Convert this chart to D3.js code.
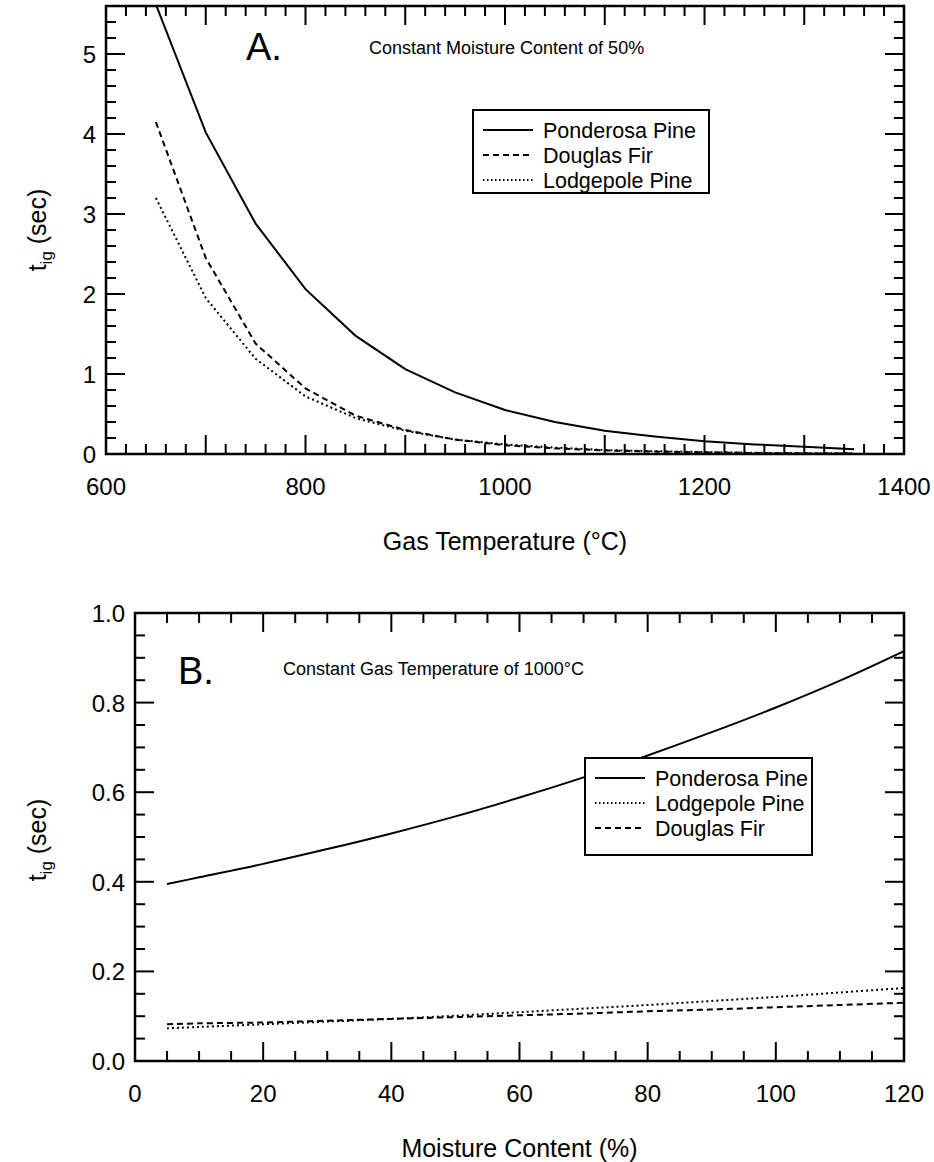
<!DOCTYPE html>
<html>
<head>
<meta charset="utf-8">
<script src="https://cdn.jsdelivr.net/npm/d3@7"></script>
<style>
  body { margin: 0; background: #fff; }
  svg text { font-family: "Liberation Sans", Arial, Helvetica, sans-serif; fill: #000; }
</style>
</head>
<body>
<div id="chart"></div>
<script>
// ---- panel A data: ignition time vs gas temperature (moisture 50%)
var gasTemp = [650, 700, 750, 800, 850, 900, 950, 1000, 1050, 1100, 1150, 1200, 1250, 1300, 1350];
var ponderosaA = [5.62, 4.02, 2.88, 2.06, 1.48, 1.06, 0.77, 0.55, 0.40, 0.29, 0.22, 0.16, 0.12, 0.09, 0.06];
var douglasA   = [4.15, 2.45, 1.38, 0.82, 0.48, 0.30, 0.18, 0.11, 0.07, 0.045, 0.03, 0.02, 0.012, 0.008, 0.005];
var lodgepoleA = [3.20, 1.95, 1.19, 0.72, 0.45, 0.29, 0.18, 0.12, 0.08, 0.05, 0.035, 0.025, 0.015, 0.01, 0.008];

// ---- panel B data: ignition time vs moisture content (gas 1000°C)
var moisture   = [5, 10, 20, 30, 40, 50, 60, 70, 80, 90, 100, 110, 120];
var ponderosaB = [0.395, 0.41, 0.44, 0.473, 0.508, 0.546, 0.588, 0.633, 0.682, 0.734, 0.789, 0.849, 0.915];
var lodgepoleB = [0.073, 0.076, 0.082, 0.088, 0.094, 0.101, 0.109, 0.117, 0.125, 0.134, 0.143, 0.153, 0.163];
var douglasB   = [0.082, 0.084, 0.086, 0.090, 0.094, 0.098, 0.102, 0.106, 0.111, 0.115, 0.120, 0.125, 0.130];

var width = 934, height = 1162;

var svg = d3.select("#chart").append("svg")
    .attr("width", width)
    .attr("height", height);

var styles = {
  "Ponderosa Pine": null,
  "Douglas Fir": "6,4",
  "Lodgepole Pine": "2,3"
};

function panel(p) {
  var x = d3.scaleLinear().domain(p.xDomain).range([p.left, p.right]);
  var y = d3.scaleLinear().domain(p.yDomain).range([p.bottom, p.top]);
  var g = svg.append("g");

  // clip for curves
  g.append("clipPath").attr("id", p.id + "-clip")
    .append("rect")
    .attr("x", p.left).attr("y", p.top)
    .attr("width", p.right - p.left).attr("height", p.bottom - p.top);

  // ticks, inward on all four sides
  var xt = d3.range(p.xDomain[0], p.xDomain[1] + 1e-9, p.xMinor);
  var yt = d3.range(p.yDomain[0], p.yDomain[1] + 1e-9, p.yMinor);
  function isMajor(v, step) { return Math.abs(v / step - Math.round(v / step)) < 1e-6; }
  var tk = g.append("g").attr("stroke", "#000").attr("stroke-width", 2);
  xt.forEach(function(v) {
    var len = isMajor(v, p.xMajor) ? 19 : 10;
    tk.append("line").attr("x1", x(v)).attr("x2", x(v)).attr("y1", p.bottom).attr("y2", p.bottom - len);
    tk.append("line").attr("x1", x(v)).attr("x2", x(v)).attr("y1", p.top).attr("y2", p.top + len);
  });
  yt.forEach(function(v) {
    var len = isMajor(v, p.yMajor) ? 19 : 10;
    tk.append("line").attr("y1", y(v)).attr("y2", y(v)).attr("x1", p.left).attr("x2", p.left + len);
    tk.append("line").attr("y1", y(v)).attr("y2", y(v)).attr("x1", p.right).attr("x2", p.right - len);
  });

  // frame
  g.append("rect")
    .attr("x", p.left).attr("y", p.top)
    .attr("width", p.right - p.left).attr("height", p.bottom - p.top)
    .attr("fill", "none").attr("stroke", "#000").attr("stroke-width", 2.5);

  // tick labels
  g.selectAll(".xl").data(p.xLabels).enter().append("text")
    .attr("x", function(d) { return x(d); })
    .attr("y", p.bottom + 41)
    .attr("text-anchor", "middle")
    .attr("font-size", 24)
    .text(function(d) { return d; });
  g.selectAll(".yl").data(p.yLabels).enter().append("text")
    .attr("x", p.left - 10)
    .attr("y", function(d) { return y(d) + 9; })
    .attr("text-anchor", "end")
    .attr("font-size", 24)
    .text(p.yFormat);

  // axis titles
  g.append("text")
    .attr("x", (p.left + p.right) / 2)
    .attr("y", p.bottom + 96)
    .attr("text-anchor", "middle")
    .attr("font-size", 25)
    .text(p.xTitle);
  var yt2 = g.append("text")
    .attr("transform", "translate(46," + p.yTitleY + ") rotate(-90)")
    .attr("text-anchor", "middle")
    .attr("font-size", 25);
  yt2.append("tspan").text("t");
  yt2.append("tspan").attr("font-size", 17).attr("dy", 6).text("ig");
  yt2.append("tspan").attr("dy", -6).text(" (sec)");

  // curves
  var line = d3.line()
    .x(function(d) { return x(d[0]); })
    .y(function(d) { return y(d[1]); })
    .curve(p.curve);
  var cg = g.append("g").attr("clip-path", "url(#" + p.id + "-clip)");
  p.series.forEach(function(s) {
    cg.append("path")
      .datum(p.xs.map(function(v, i) { return [v, s.values[i]]; }))
      .attr("d", line)
      .attr("fill", "none")
      .attr("stroke", "#000")
      .attr("stroke-width", 2)
      .attr("stroke-dasharray", styles[s.name]);
  });

  // panel letter + note
  g.append("text").attr("x", p.letterX).attr("y", p.letterY)
    .attr("font-size", 38).text(p.letter);
  g.append("text").attr("x", p.noteX).attr("y", p.noteY)
    .attr("font-size", 18).text(p.note);

  // legend
  var lg = g.append("g");
  lg.append("rect")
    .attr("x", p.legend.x).attr("y", p.legend.y)
    .attr("width", p.legend.w).attr("height", p.legend.h)
    .attr("fill", "#fff").attr("stroke", "#000").attr("stroke-width", 2);
  p.legend.order.forEach(function(name, i) {
    var cy = p.legend.y + 20 + i * 25;
    lg.append("line")
      .attr("x1", p.legend.x + 10).attr("x2", p.legend.x + 60)
      .attr("y1", cy).attr("y2", cy)
      .attr("stroke", "#000").attr("stroke-width", 2)
      .attr("stroke-dasharray", name === "Lodgepole Pine" ? "1.5,2.5" : styles[name]);
    lg.append("text")
      .attr("x", p.legend.x + 70).attr("y", cy + 8)
      .attr("font-size", 21.5).text(name);
  });
}

panel({
  id: "a",
  left: 106, right: 904, top: 6, bottom: 454,
  xDomain: [600, 1400], yDomain: [0, 5.6],
  xMinor: 20, xMajor: 100, yMinor: 0.2, yMajor: 1,
  xLabels: [600, 800, 1000, 1200, 1400],
  yLabels: [0, 1, 2, 3, 4, 5],
  yFormat: d3.format("d"),
  xTitle: "Gas Temperature (°C)",
  yTitleY: 230,
  xs: gasTemp,
  curve: d3.curveLinear,
  series: [
    { name: "Ponderosa Pine", values: ponderosaA },
    { name: "Douglas Fir", values: douglasA },
    { name: "Lodgepole Pine", values: lodgepoleA }
  ],
  letter: "A.", letterX: 246, letterY: 60,
  note: "Constant Moisture Content of 50%", noteX: 369, noteY: 54,
  legend: { x: 473, y: 110, w: 236, h: 83, order: ["Ponderosa Pine", "Douglas Fir", "Lodgepole Pine"] }
});

panel({
  id: "b",
  left: 135, right: 904, top: 613, bottom: 1061,
  xDomain: [0, 120], yDomain: [0, 1],
  xMinor: 5, xMajor: 20, yMinor: 0.05, yMajor: 0.2,
  xLabels: [0, 20, 40, 60, 80, 100, 120],
  yLabels: [0, 0.2, 0.4, 0.6, 0.8, 1.0],
  yFormat: d3.format(".1f"),
  xTitle: "Moisture Content (%)",
  yTitleY: 840,
  xs: moisture,
  curve: d3.curveCatmullRom,
  series: [
    { name: "Ponderosa Pine", values: ponderosaB },
    { name: "Lodgepole Pine", values: lodgepoleB },
    { name: "Douglas Fir", values: douglasB }
  ],
  letter: "B.", letterX: 178, letterY: 684,
  note: "Constant Gas Temperature of 1000°C", noteX: 283, noteY: 675,
  legend: { x: 585, y: 758, w: 227, h: 97, order: ["Ponderosa Pine", "Lodgepole Pine", "Douglas Fir"] }
});
</script>
</body>
</html>
